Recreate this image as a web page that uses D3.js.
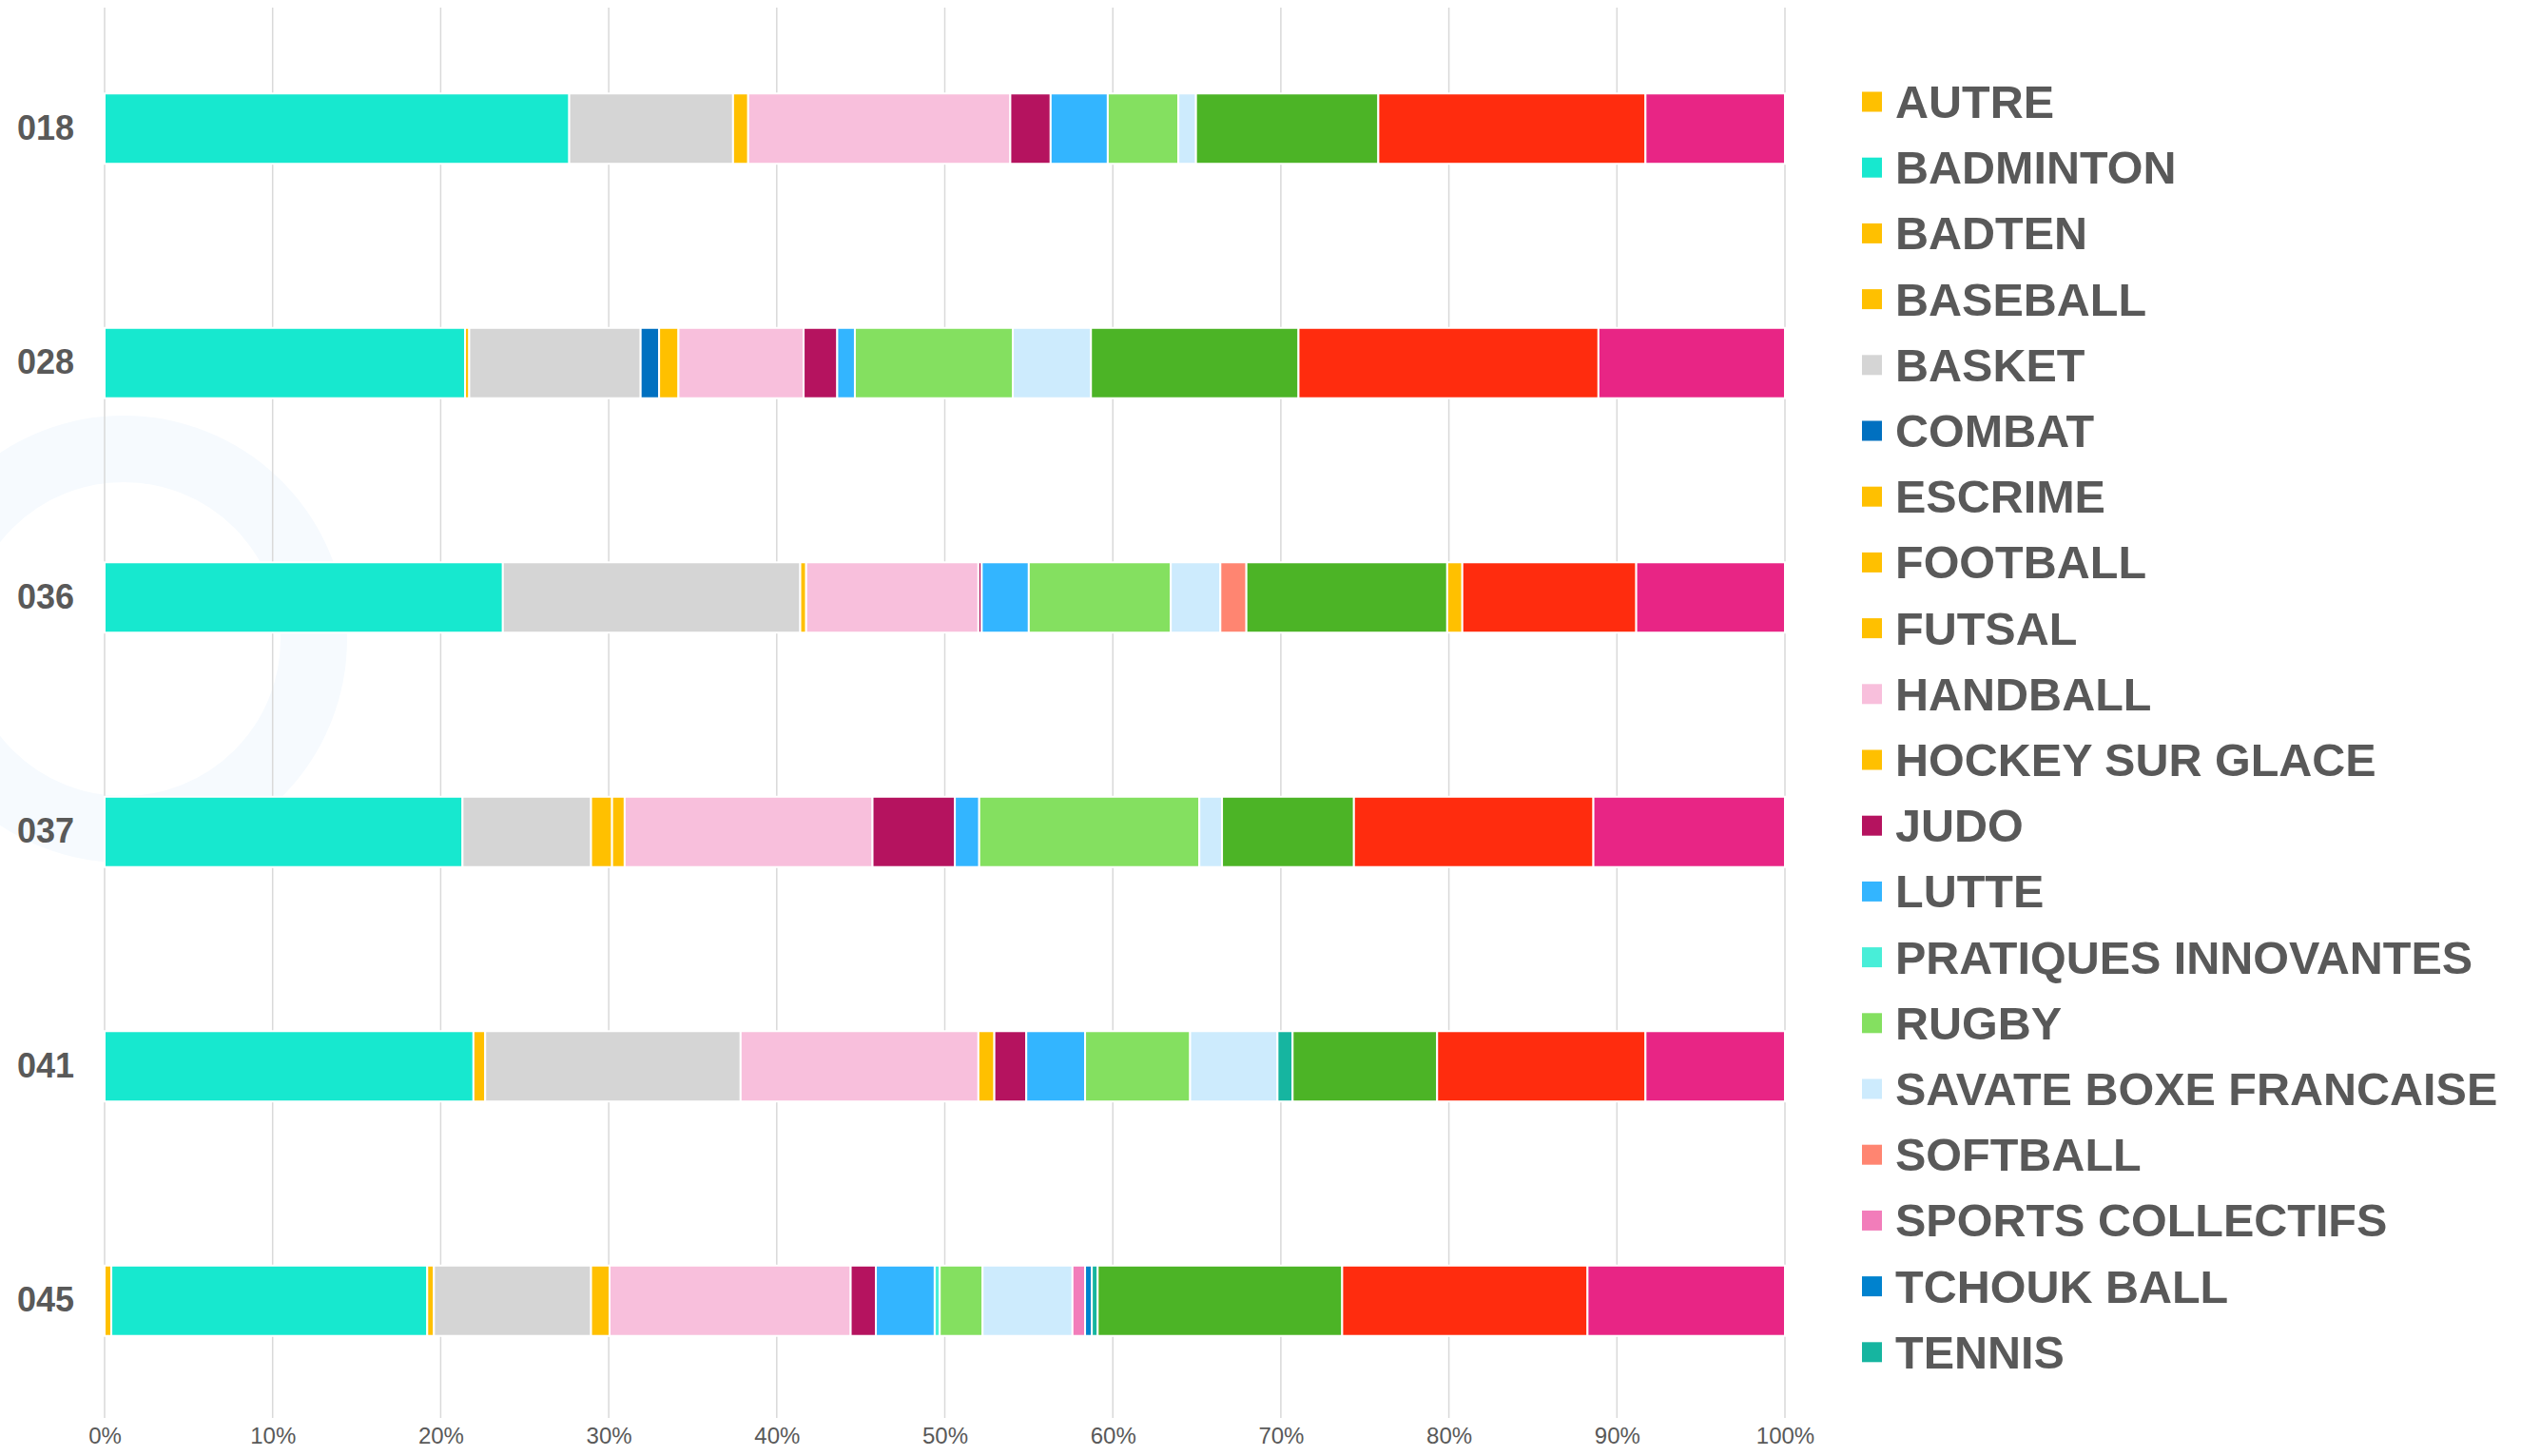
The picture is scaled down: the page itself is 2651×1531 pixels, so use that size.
<!DOCTYPE html>
<html>
<head>
<meta charset="utf-8">
<script src="https://cdn.jsdelivr.net/npm/d3@7"></script>
<style>
  body { margin: 0; background: #fff; }
  text { font-family: "Liberation Sans", Arial, sans-serif; fill: #595959; }
</style>
</head>
<body>
<div id="chart"></div>
<script>
// categories (rows) and sports (stacked series), values are % of each row
const categories = ["018", "028", "036", "037", "041", "045"];

const autre        = [0, 0, 0, 0, 0, 0.4];
const badminton    = [27.65, 21.45, 23.7, 21.3, 21.95, 18.8];
const badten       = [0, 0.25, 0, 0, 0.7, 0.4];
const baseball     = [0, 0, 0, 0, 0, 0];
const basket       = [9.75, 10.2, 17.7, 7.65, 15.2, 9.35];
const combat       = [0, 1.1, 0, 0, 0, 0];
const escrime      = [0, 0, 0, 0, 0, 0];
const football     = [0.9, 1.15, 0.35, 1.25, 0, 1.1];
const futsal       = [0, 0, 0, 0.75, 0, 0];
const handball     = [15.6, 7.45, 10.25, 14.75, 14.15, 14.35];
const hockey       = [0, 0, 0, 0, 0.95, 0];
const judo         = [2.4, 2.0, 0.2, 4.9, 1.9, 1.5];
const lutte        = [3.4, 1.05, 2.8, 1.45, 3.5, 3.5];
const pratiques    = [0, 0, 0, 0, 0, 0.3];
const rugby        = [4.2, 9.4, 8.45, 13.1, 6.25, 2.55];
const savate       = [1.05, 4.65, 2.95, 1.35, 5.2, 5.35];
const softball     = [0, 0, 1.55, 0, 0, 0];
const sportsColl   = [0, 0, 0, 0, 0, 0.75];
const tchouk       = [0, 0, 0, 0, 0, 0.4];
const tennis       = [0, 0, 0, 0, 0.9, 0.35];
const tennisTable  = [10.85, 12.35, 11.95, 7.85, 8.6, 14.55];
const tirArc       = [0, 0, 0.9, 0, 0, 0];
const ultimate     = [15.9, 17.85, 10.35, 14.25, 12.4, 14.6];
const volley       = [8.3, 11.1, 8.85, 11.4, 8.3, 11.75];

const seriesNames = ["AUTRE", "BADMINTON", "BADTEN", "BASEBALL", "BASKET", "COMBAT",
  "ESCRIME", "FOOTBALL", "FUTSAL", "HANDBALL", "HOCKEY SUR GLACE", "JUDO", "LUTTE",
  "PRATIQUES INNOVANTES", "RUGBY", "SAVATE BOXE FRANCAISE", "SOFTBALL",
  "SPORTS COLLECTIFS", "TCHOUK BALL", "TENNIS", "TENNIS DE TABLE", "TIR A L'ARC",
  "ULTIMATE", "VOLLEY"];
const seriesValues = [autre, badminton, badten, baseball, basket, combat, escrime,
  football, futsal, handball, hockey, judo, lutte, pratiques, rugby, savate, softball,
  sportsColl, tchouk, tennis, tennisTable, tirArc, ultimate, volley];
const seriesColors = ["#FFC000", "#17E8CF", "#FFC000", "#FFC000", "#D5D5D5", "#0070C0",
  "#FFC000", "#FFC000", "#FFC000", "#F8BFDC", "#FFC000", "#B5135F", "#33B5FF",
  "#48EED8", "#84E060", "#CDEBFD", "#FF8571", "#F27DBA", "#0082CE", "#16B5A0",
  "#4CB426", "#FFC000", "#FF2C0E", "#E82585"];
const tickValues = [0, 10, 20, 30, 40, 50, 60, 70, 80, 90, 100];
const legendCount = 20; // legend is cut after TENNIS

const W = 2651, H = 1531;
const plot = { left: 110, right: 1877, top: 12, bottom: 1491 };

const svg = d3.select("#chart").append("svg")
    .attr("width", W).attr("height", H);
svg.append("rect").attr("width", W).attr("height", H).attr("fill", "#fff");

// faint watermark ring on the left
svg.append("circle")
    .attr("cx", 130).attr("cy", 672).attr("r", 200)
    .attr("fill", "none").attr("stroke", "#F6FAFE").attr("stroke-width", 70);

const x = d3.scaleLinear().domain([0, 100]).range([plot.left, plot.right]);
const y = d3.scaleBand().domain(categories)
    .range([plot.top, plot.bottom])
    .paddingInner(0.7).paddingOuter(0.35);

// gridlines
svg.append("g").selectAll("line")
    .data(tickValues).enter().append("line")
    .attr("x1", d => x(d)).attr("x2", d => x(d))
    .attr("y1", plot.top - 4).attr("y2", plot.bottom)
    .attr("stroke", "#D9D9D9").attr("stroke-width", 1.5);

// x axis labels
const xAxis = svg.append("g")
    .attr("transform", `translate(0,${plot.bottom})`)
    .call(d3.axisBottom(x).tickValues(tickValues).tickSize(0).tickFormat(d => d + "%"));
xAxis.select(".domain").remove();
xAxis.selectAll("text")
    .attr("y", 27).attr("dy", "0")
    .style("font-size", "24px").style("fill", "#595959")
    .style("font-family", "'Liberation Sans', Arial, sans-serif");

// y axis labels
const yAxis = svg.append("g")
    .attr("transform", `translate(${plot.left},0)`)
    .call(d3.axisLeft(y).tickSize(0).tickPadding(32));
yAxis.select(".domain").remove();
yAxis.selectAll("text")
    .style("font-size", "36px").style("font-weight", "bold").style("fill", "#595959")
    .style("font-family", "'Liberation Sans', Arial, sans-serif");

// stacked bars
const rows = categories.map((c, i) => {
    const row = { cat: c };
    seriesNames.forEach((s, j) => row[s] = seriesValues[j][i]);
    return row;
});
const stacked = d3.stack().keys(seriesNames)(rows);

stacked.forEach((layer, j) => {
    svg.append("g").selectAll("rect")
        .data(layer.filter(d => d[1] - d[0] > 0))
        .enter().append("rect")
        .attr("x", d => x(d[0]))
        .attr("width", d => x(d[1]) - x(d[0]))
        .attr("y", d => y(d.data.cat))
        .attr("height", y.bandwidth())
        .attr("fill", seriesColors[j])
        .attr("stroke", "#fff").attr("stroke-width", 2);
});

// legend
const legend = svg.append("g");
const legendItems = legend.selectAll("g")
    .data(seriesNames.slice(0, legendCount)).enter().append("g")
    .attr("transform", (d, i) => `translate(1958,${107 + i * 69.2})`);
legendItems.append("rect")
    .attr("x", 0).attr("y", -10.5).attr("width", 21).attr("height", 21)
    .attr("fill", (d, i) => seriesColors[i]);
legendItems.append("text")
    .attr("x", 35).attr("dy", "0.35em")
    .style("font-size", "48.5px").style("font-weight", "bold")
    .text(d => d);
</script>
</body>
</html>
